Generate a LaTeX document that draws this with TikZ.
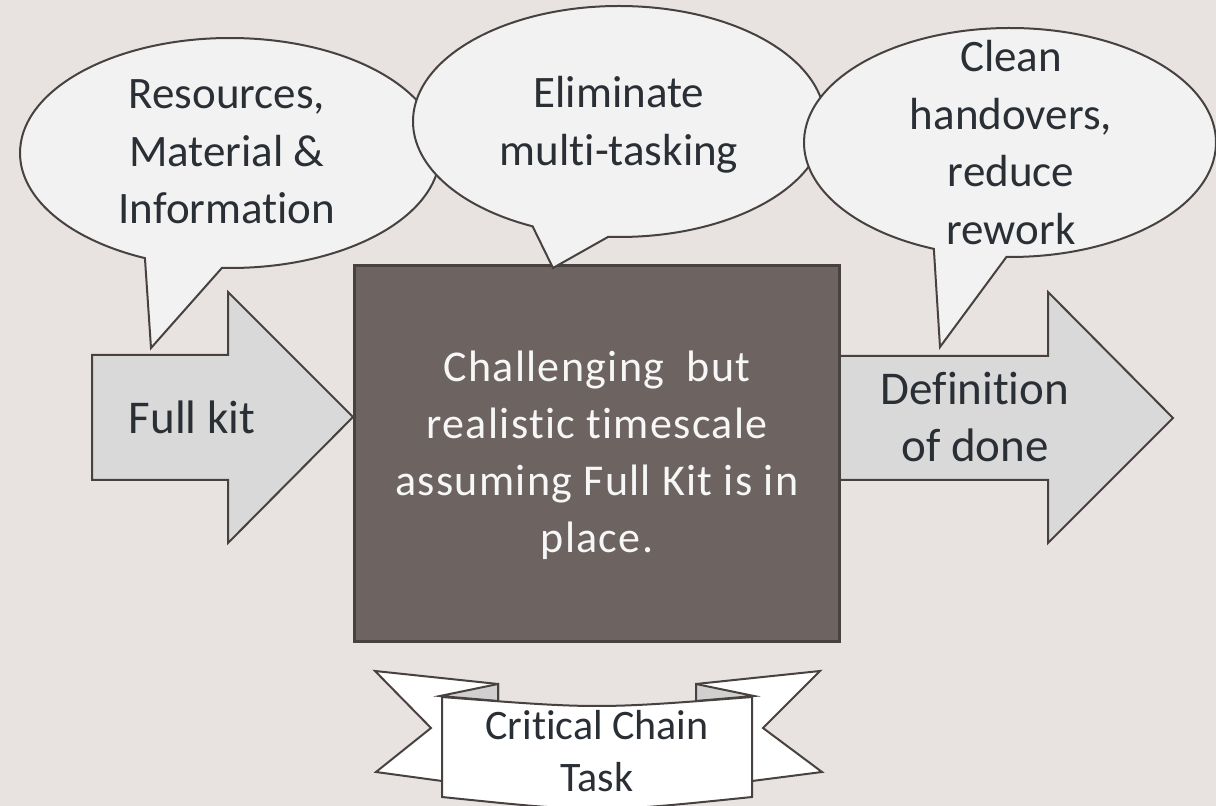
\documentclass[tikz,border=0pt]{standalone}
\usepackage{fontspec}
\setmainfont{Carlito}[Ligatures=NoCommon]
\newfontfamily\spacedfam{Carlito}[Ligatures=NoCommon, LetterSpace=3]

\definecolor{bgc}{HTML}{E8E3E0}
\definecolor{boxfill}{HTML}{6D6461}
\definecolor{edge}{HTML}{47423F}
\definecolor{arrowfill}{HTML}{D9D9D9}
\definecolor{callfill}{HTML}{F2F2F2}
\definecolor{inkdark}{HTML}{2A2F35}
\definecolor{foldgray}{HTML}{D0D0D0}
\definecolor{boxtext}{HTML}{F7F7F7}

% centred block of lines whose base is the first line's baseline
\newcommand{\mlines}[1]{\begin{tabular}[t]{@{}c@{}}#1\end{tabular}}

\tikzset{
  outline/.style={draw=edge, line width=1pt, line join=miter},
  callout/.style={outline, fill=callfill},
  fatarrow/.style={outline, fill=arrowfill},
  ribbonpart/.style={outline, fill=white},
  foldpart/.style={outline, fill=foldgray},
  calltext/.style={anchor=base, inner sep=0pt, text=inkdark,
    font=\fontsize{22.5pt}{28.75pt}\selectfont},
  arrowtext/.style={anchor=base, inner sep=0pt, text=inkdark,
    font=\fontsize{23.5pt}{28.5pt}\selectfont},
  boxlabel/.style={anchor=base, inner sep=0pt, text=boxtext,
    font=\spacedfam\fontsize{22pt}{28.5pt}\selectfont},
  ribbontext/.style={anchor=base, inner sep=0pt, text=inkdark,
    font=\fontsize{21pt}{26pt}\selectfont},
}

\begin{document}
\begin{tikzpicture}[x=0.5pt, y=-0.5pt]
  \useasboundingbox (0,0) rectangle (1216,806);
  \fill[bgc] (0,0) rectangle (1216,806);

  % block arrows on either side of the task
  \draw[fatarrow] (92,355) -- (228,355) -- (228,292) -- (353,417)
    -- (228,543) -- (228,480) -- (92,480) -- cycle;
  \draw[fatarrow] (830,356) -- (1048,356) -- (1048,292) -- (1173,418)
    -- (1048,543) -- (1048,480) -- (830,480) -- cycle;

  % the task itself
  \draw[draw=edge, line width=1.5pt, fill=boxfill] (354,266) rectangle (839,642);

  % speech bubbles: ellipse arc plus a pointed tail
  \coordinate (cA) at (230,153);
  \draw[callout] (cA) ++(267.8:105pt and 57.5pt)
    arc[start angle=267.8, end angle=606.1, x radius=105pt, y radius=57.5pt]
    -- (151,348) -- cycle;
  \coordinate (cB) at (619,121.5);
  \draw[callout] (cB) ++(267:103pt and 57.75pt)
    arc[start angle=267, end angle=605.2, x radius=103pt, y radius=57.75pt]
    -- (553,268) -- cycle;
  \coordinate (cC) at (1010,142.5);
  \draw[callout] (cC) ++(269:103pt and 57.25pt)
    arc[start angle=269, end angle=608.3, x radius=103pt, y radius=57.25pt]
    -- (940,347) -- cycle;

  % banner: tails, folds, front panel
  \draw[ribbonpart] (375,671) -- (498,684) -- (498,760) -- (442,781)
    -- (376,772) -- (431,728) -- cycle;
  \draw[ribbonpart] (820,671) -- (696,684) -- (696,760) -- (752,781)
    -- (822,772) -- (763,728) -- cycle;
  \draw[foldpart] (440,696) -- (498,684) -- (498,701) -- cycle;
  \draw[foldpart] (754,696) -- (696,684) -- (696,701) -- cycle;
  \draw[ribbonpart] (442,697) .. controls (597,709) .. (752,697)
    -- (752,797) .. controls (597,813) .. (442,797) -- cycle;

  % labels
  \node[calltext] (resources) at (227,109)
    {\mlines{Resources,\\Material \&\\Information}};
  \node[calltext] (multitask) at (619,108)
    {\mlines{Eliminate\\multi-tasking}};
  \node[calltext] (handovers) at (1011,72)
    {\mlines{Clean\\handovers,\\reduce\\rework}};
  \node[arrowtext] (fullkit) at (192,434) {Full kit};
  \node[arrowtext] (done) at (975,405) {\mlines{Definition\\of done}};
  \node[boxlabel] (timescale) at (597,382)
    {\mlines{Challenging\ \ but\\realistic timescale\\assuming Full Kit is in\\place.}};
  \node[ribbontext] (cctask) at (597,740) {\mlines{Critical Chain\\Task}};
\end{tikzpicture}
\end{document}
